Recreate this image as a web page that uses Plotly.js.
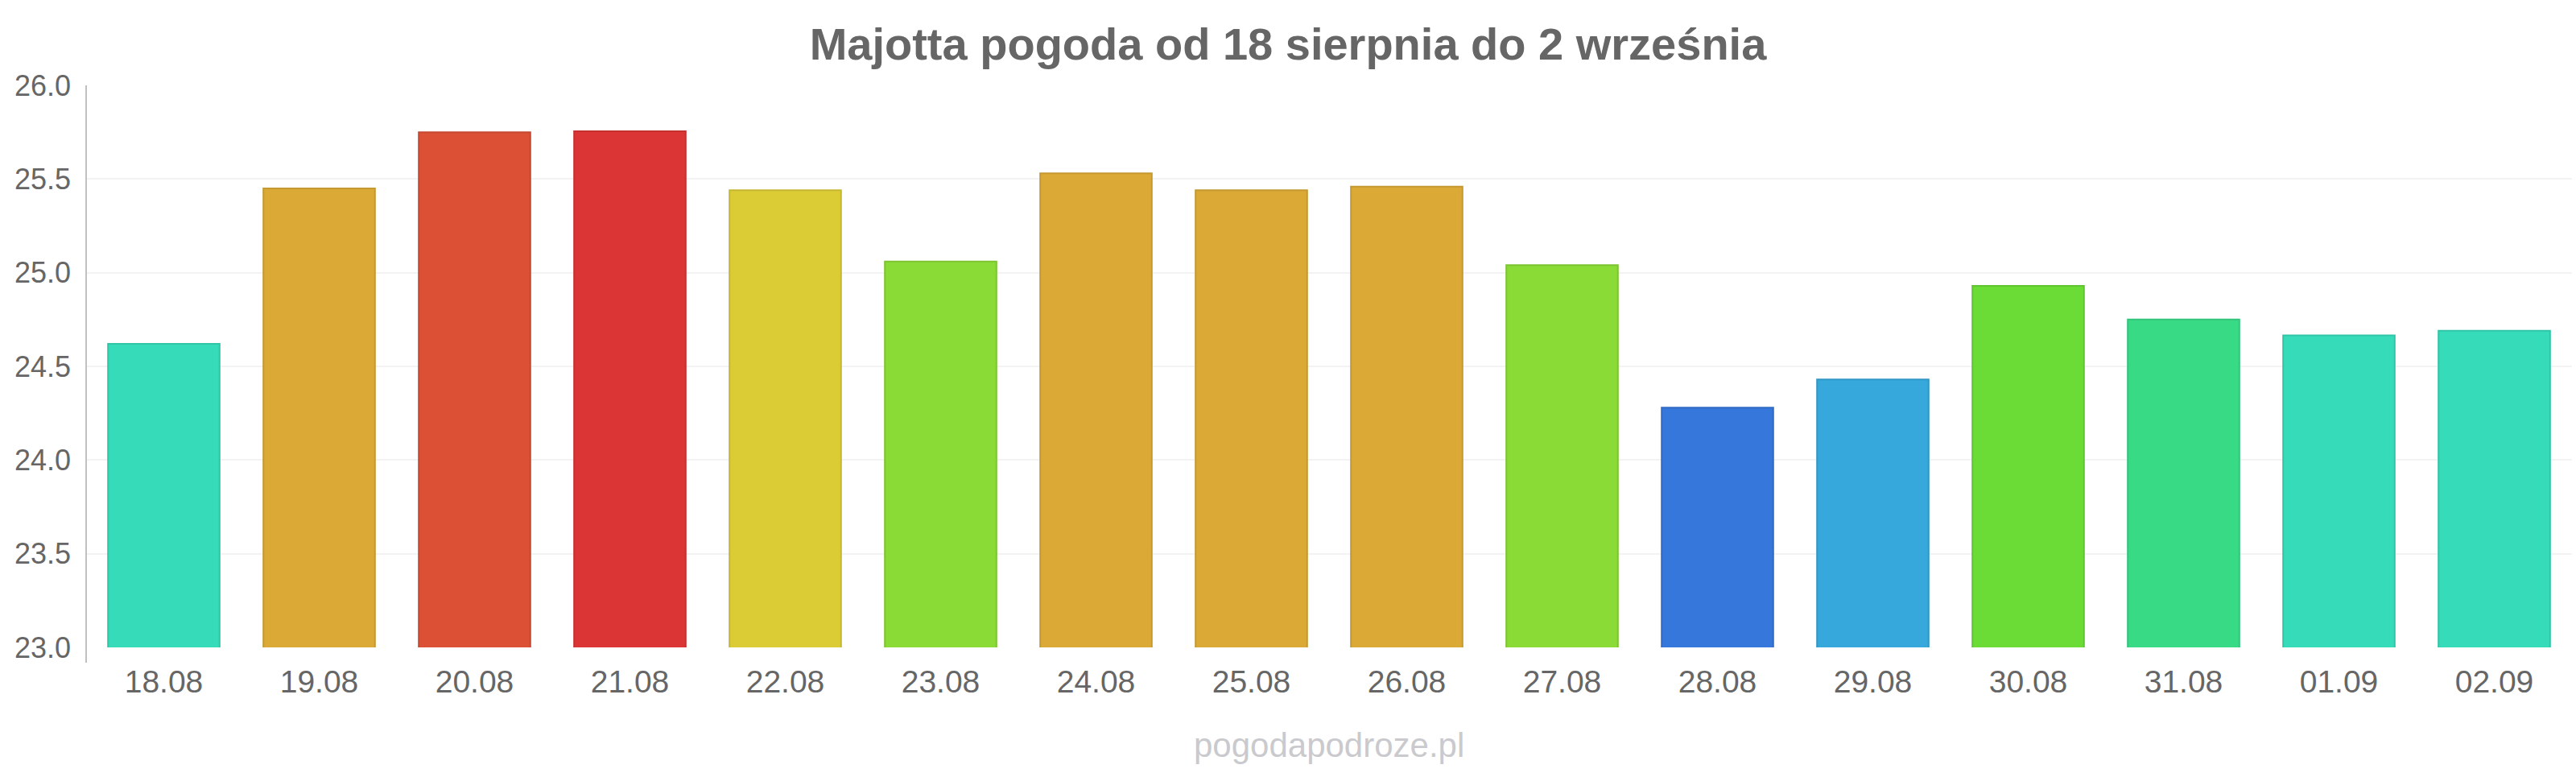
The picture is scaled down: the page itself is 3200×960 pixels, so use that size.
<!DOCTYPE html>
<html>
<head>
<meta charset="utf-8">
<script src="https://cdn.plot.ly/plotly-3.0.1.min.js"></script>
<style>
html,body{margin:0;padding:0;background:#fff;}
#chart{width:3200px;height:960px;}
</style>
</head>
<body>
<div id="chart"></div>
<script>
var titleText = "Majotta pogoda od 18 sierpnia do 2 września";
var watermark = "pogodapodroze.pl";
var days = ["18.08","19.08","20.08","21.08","22.08","23.08","24.08","25.08","26.08","27.08","28.08","29.08","30.08","31.08","01.09","02.09"];
var temps = [24.62, 25.45, 25.75, 25.755, 25.44, 25.06, 25.53, 25.44, 25.46, 25.04, 24.28, 24.43, 24.93, 24.75, 24.665, 24.69];
var barColors = ["#36dbba","#dba935","#dc5035","#db3535","#dbcb35","#8adb35","#dba935","#dba935","#dba935","#8adb35","#3677db","#36a8db","#6bdb35","#38da86","#36dbba","#36dbba"];
var yTicks = [23.0, 23.5, 24.0, 24.5, 25.0, 25.5, 26.0];

function darker(hex, f) {
  var r = parseInt(hex.substr(1,2),16), g = parseInt(hex.substr(3,2),16), b = parseInt(hex.substr(5,2),16);
  return "rgb(" + Math.round(r*f) + "," + Math.round(g*f) + "," + Math.round(b*f) + ")";
}
var lineColors = barColors.map(function(c){ return darker(c, 0.9); });

var FONT = "Liberation Sans, Arial, sans-serif";

var trace = {
  type: "bar",
  x: days,
  y: temps,
  marker: { color: barColors, line: { color: lineColors, width: 2 } },
  hoverinfo: "none"
};

var W = 3200, H = 960;
var mL = 107, mR = 5, mT = 106, mB = 156;
var plotH = H - mT - mB;

var layout = {
  width: W, height: H,
  margin: { l: mL, r: mR, t: mT, b: mB, pad: 0 },
  paper_bgcolor: "#ffffff",
  plot_bgcolor: "#ffffff",
  showlegend: false,
  bargap: 0.282,
  title: {
    text: "<b>" + titleText + "</b>",
    font: { family: FONT, size: 56, color: "#666666" },
    x: 0.5, xanchor: "center", xref: "container",
    y: 1 - 54/H, yanchor: "middle", yref: "container"
  },
  xaxis: {
    type: "category",
    tickvals: days,
    ticktext: days,
    showgrid: false,
    zeroline: false,
    showline: false,
    ticks: "",
    ticklabelstandoff: 16,
    tickfont: { family: FONT, size: 39, color: "#666666" },
    fixedrange: true
  },
  yaxis: {
    range: [23, 26],
    tickvals: yTicks,
    ticktext: yTicks.map(function(v){ return v.toFixed(1); }),
    showgrid: true,
    gridcolor: "#f3f3f3",
    gridwidth: 2,
    zeroline: false,
    showline: false,
    ticks: "",
    ticklabelstandoff: 18,
    tickfont: { family: FONT, size: 36, color: "#666666" },
    fixedrange: true
  },
  shapes: [{
    type: "line", xref: "paper", yref: "paper",
    x0: 0, x1: 0, y0: -(823 - (H - mB)) / plotH, y1: 1,
    line: { color: "#c0c0c0", width: 2 }
  }],
  annotations: [{
    text: watermark,
    xref: "paper", yref: "paper",
    x: 0.5, xanchor: "center",
    y: -(925 - (H - mB)) / plotH, yanchor: "middle",
    showarrow: false,
    font: { family: FONT, size: 42, color: "#cacace" }
  }]
};

Plotly.newPlot("chart", [trace], layout, { displayModeBar: false, staticPlot: true });
</script>
</body>
</html>
